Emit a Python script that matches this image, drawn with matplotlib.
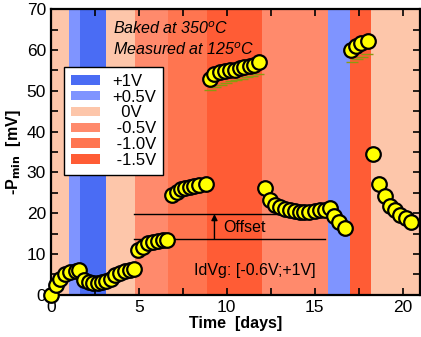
import matplotlib
matplotlib.use("Agg")
import matplotlib.pyplot as plt
from matplotlib.patches import Patch
from matplotlib.ticker import MultipleLocator

plt.rcParams['font.family'] = ['Liberation Sans', 'DejaVu Sans']

# Bias bands (days) and their voltages
band_edges = [0, 1.0, 1.65, 3.15, 4.8, 6.65, 8.9, 12.0, 15.75, 17.0, 18.2, 21.0]
band_volts = ['0V', '+0.5V', '+1V', '0V', '-0.5V', '-1.0V', '-1.5V', '-0.5V', '+0.5V', '-1.5V', '0V']
volt_colors = {'+1V': '#4a6cf4', '+0.5V': '#7f94ff', '0V': '#fdc6aa',
               '-0.5V': '#ff8a6c', '-1.0V': '#ff7550', '-1.5V': '#ff5c35'}
legend_order = ['+1V', '+0.5V', '0V', '-0.5V', '-1.0V', '-1.5V']
legend_labels = ['+1V', '+0.5V', '  0V', ' -0.5V', ' -1.0V', ' -1.5V']

# Measured -Pmin (mV) vs time (days)
t = [0.0, 0.3, 0.5, 0.78, 1.1, 1.4, 1.62,
     1.9, 2.15, 2.4, 2.65, 2.9, 3.15, 3.4, 3.65, 3.9, 4.2, 4.48, 4.75,
     4.96, 5.25, 5.53, 5.8, 6.1, 6.38, 6.62,
     6.9, 7.15, 7.4, 7.65, 7.9, 8.15, 8.4, 8.8,
     9.03, 9.3, 9.6, 9.9, 10.17, 10.45, 10.74, 11.0, 11.3, 11.55, 11.84,
     12.16, 12.44, 12.73, 13.0, 13.3, 13.58, 13.86, 14.15, 14.4, 14.7, 15.0, 15.28, 15.57,
     15.9, 16.1, 16.4, 16.74,
     17.08, 17.37, 17.65, 18.03,
     18.3, 18.65, 18.98, 19.26, 19.55, 19.83, 20.17, 20.5]
v = [0.0, 2.5, 4.0, 5.0, 5.5, 5.9, 6.1,
     3.7, 3.2, 3.0, 3.0, 3.2, 3.5, 4.0, 4.8, 5.4, 5.8, 6.1, 6.3,
     11.0, 11.8, 12.6, 13.0, 13.3, 13.5, 13.5,
     24.5, 25.3, 25.9, 26.3, 26.5, 26.7, 26.8, 27.2,
     53.0, 54.1, 54.6, 54.9, 55.1, 55.2, 55.5, 55.7, 56.0, 56.4, 57.1,
     26.3, 23.2, 22.0, 21.6, 21.0, 20.8, 20.6, 20.4, 20.2, 20.4, 20.6, 20.8, 20.8,
     21.4, 19.2, 17.9, 16.5,
     60.0, 60.9, 61.6, 62.3,
     34.5, 27.2, 24.1, 21.8, 20.8, 19.6, 18.8, 17.9]

# olive shadow marks under the high points
shadow_t = [9.05, 9.35, 9.65, 9.95, 10.25, 10.55, 10.85, 11.15, 11.45, 11.8,
            17.1, 17.4, 17.7, 18.0]
shadow_v = [50.3, 50.9, 51.4, 51.9, 52.4, 52.7, 53.0, 53.3, 53.6, 54.1,
            57.1, 57.8, 58.3, 59.1]

offset_low = 13.7
offset_high = 19.8

fig = plt.figure(figsize=(4.21, 3.37), dpi=100)
ax = fig.add_axes([0.121, 0.125, 0.877, 0.848])

for i, volt in enumerate(band_volts):
    ax.axvspan(band_edges[i], band_edges[i + 1], color=volt_colors[volt], lw=0, zorder=0)

ax.plot(shadow_t, shadow_v, ls='none', marker='_', ms=9, mew=1.0, color='#8a9a10', zorder=2)
ax.plot(t, v, ls='none', marker='o', ms=10.5, mfc='#ffff00', mec='black', mew=1.6,
        zorder=3, clip_on=False)

# offset annotation
ax.plot([4.75, 15.6], [offset_high, offset_high], color='black', lw=1, zorder=2)
ax.plot([4.75, 15.6], [offset_low, offset_low], color='black', lw=1, zorder=2)
ax.annotate('', xy=(9.3, offset_high), xytext=(9.3, offset_low),
            arrowprops=dict(arrowstyle='-|>', color='black', lw=1, mutation_scale=9,
                            shrinkA=0, shrinkB=0), zorder=2)
ax.text(9.8, 16.5, 'Offset', fontsize=11.5, va='center', ha='left')
ax.text(8.15, 5.9, 'IdVg: [-0.6V;+1V]', fontsize=11.5, va='center', ha='left')

ax.text(3.55, 65.3, 'Baked at 350$^o$C', fontsize=11.5, style='italic', va='center')
ax.text(3.55, 60.0, 'Measured at 125$^o$C', fontsize=11.5, style='italic', va='center')

handles = [Patch(facecolor=volt_colors[k], edgecolor='none') for k in legend_order]
leg = ax.legend(handles, legend_labels, loc='upper left', bbox_to_anchor=(0.035, 0.797),
                borderaxespad=0, fancybox=False, framealpha=1, edgecolor='black',
                fontsize=12, handlelength=1.75, handleheight=0.5, labelspacing=0.05,
                handletextpad=0.75, borderpad=0.4)
leg.get_frame().set_linewidth(1.0)

ax.set_xlim(0, 21)
ax.set_ylim(0, 70)
ax.xaxis.set_major_locator(MultipleLocator(5))
ax.xaxis.set_minor_locator(MultipleLocator(2.5))
ax.yaxis.set_major_locator(MultipleLocator(10))
ax.yaxis.set_minor_locator(MultipleLocator(5))
ax.tick_params(which='both', direction='in', top=True, right=True, labelsize=12.5, width=1.2)
ax.tick_params(which='major', length=5)
ax.tick_params(which='minor', length=5)
for s in ax.spines.values():
    s.set_linewidth(1.6)

ax.set_xlabel('Time  [days]', fontsize=11.5, fontweight='bold', labelpad=1)
ax.set_ylabel(r'-P$_{\mathbf{min}}$  [mV]', fontsize=11.5, fontweight='bold', labelpad=3)

fig.savefig('out.png', dpi=100)
